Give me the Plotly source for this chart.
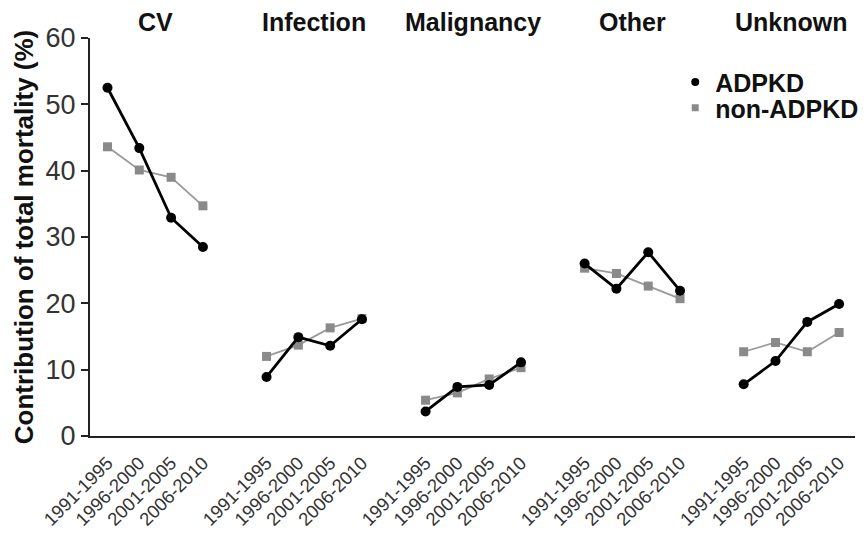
import plotly.graph_objects as go

causes = ["CV", "Infection", "Malignancy", "Other", "Unknown"]
periods = ["1991-1995", "1996-2000", "2001-2005", "2006-2010"]
adpkd = [
    [52.5, 43.4, 32.9, 28.5],
    [8.9, 14.9, 13.6, 17.6],
    [3.7, 7.4, 7.7, 11.1],
    [26.0, 22.2, 27.7, 21.9],
    [7.8, 11.3, 17.2, 19.9],
]
non_adpkd = [
    [43.6, 40.1, 39.0, 34.7],
    [12.0, 13.7, 16.3, 17.7],
    [5.4, 6.5, 8.6, 10.3],
    [25.3, 24.5, 22.6, 20.7],
    [12.7, 14.1, 12.7, 15.6],
]
y_ticks = [0, 10, 20, 30, 40, 50, 60]

FONT = "Arial, Liberation Sans, sans-serif"
step = len(periods) + 1

xs, ya, yn, tickvals, ticktext = [], [], [], [], []
for g in range(len(causes)):
    for i, p in enumerate(periods):
        xv = g * step + i
        xs.append(xv)
        ya.append(adpkd[g][i])
        yn.append(non_adpkd[g][i])
        tickvals.append(xv)
        ticktext.append(p)
    xs.append(None)
    ya.append(None)
    yn.append(None)

fig = go.Figure()
fig.add_trace(go.Scatter(
    x=xs, y=yn, mode="lines+markers", showlegend=False,
    line=dict(color="#9a9a9a", width=1.8),
    marker=dict(symbol="square", size=9, color="#8a8a8a"),
))
fig.add_trace(go.Scatter(
    x=xs, y=ya, mode="lines+markers", showlegend=False,
    line=dict(color="black", width=2.8),
    marker=dict(symbol="circle", size=10, color="black"),
))
fig.add_trace(go.Scatter(
    x=[None], y=[None], mode="markers", name="<b>ADPKD</b>", legend="legend",
    marker=dict(symbol="circle", size=8, color="black"),
))
fig.add_trace(go.Scatter(
    x=[None], y=[None], mode="markers", name="<b>non-ADPKD</b>", legend="legend2",
    marker=dict(symbol="square", size=7, color="#8a8a8a"),
))

for g, c in enumerate(causes):
    fig.add_annotation(
        x=g * step + (len(periods) - 1) / 2, y=1.0, xref="x", yref="paper",
        yanchor="bottom", yshift=0, text="<b>%s</b>" % c, showarrow=False,
        font=dict(family=FONT, size=25, color="#111"),
    )

legend_style = dict(
    x=0.765, xanchor="left", yanchor="middle",
    font=dict(family=FONT, size=25, color="#111"),
    bgcolor="rgba(0,0,0,0)", itemwidth=30,
)

fig.update_layout(
    width=860, height=526,
    margin=dict(l=82, r=13, t=30, b=98, autoexpand=False),
    paper_bgcolor="white", plot_bgcolor="white",
    font=dict(family=FONT, color="#222"),
    legend=dict(y=0.889, **legend_style),
    legend2=dict(y=0.824, **legend_style),
    xaxis=dict(
        range=[-0.55, 23.5], tickmode="array", tickvals=tickvals, ticktext=ticktext,
        tickangle=-45, tickfont=dict(family=FONT, size=18.5, color="#333"),
        showgrid=False, zeroline=False, showline=True, linecolor="#222",
        linewidth=2, ticks="outside", ticklen=7, tickcolor="rgba(0,0,0,0)",
        automargin=False,
    ),
    yaxis=dict(
        range=[0, 60], tickvals=y_ticks, showgrid=False, zeroline=False,
        showline=True, linecolor="#222", linewidth=2, ticks="outside",
        ticklen=7, tickwidth=1.5, tickcolor="#222", automargin=False,
        tickfont=dict(family=FONT, size=27, color="#333"),
        title=dict(text="<b>Contribution of total mortality (%)</b>",
                   font=dict(family=FONT, size=26, color="#111"), standoff=4),
    ),
)

fig.write_html("out.html")
